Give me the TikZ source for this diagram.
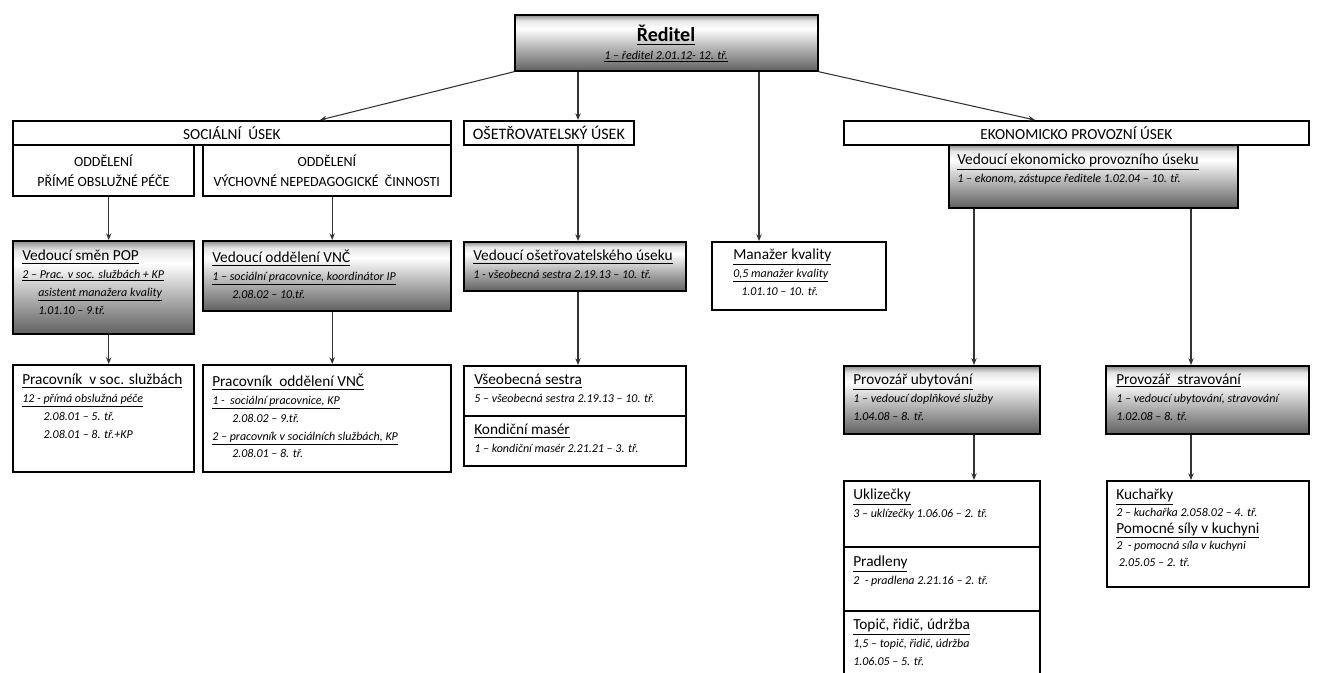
\documentclass[tikz,border=0pt]{standalone}
\usepackage{fontspec}
\setmainfont{Carlito}
\usepackage{tikz}
\usetikzlibrary{positioning,calc,arrows.meta}
\pgfdeclareverticalshading{boxgrad}{100bp}{color(0bp)=(black!62); color(25bp)=(black!62); color(42bp)=(black!35); color(63bp)=(white); color(70bp)=(black!10); color(75bp)=(black!45); color(100bp)=(black!45)}
\newcommand\boxtitle[1]{{\fontsize{11.5}{14}\selectfont\upshape\underline{#1}}}

\begin{document}
\begin{tikzpicture}[x=0.75pt, y=-0.75pt,
    box/.style 2 args={draw, line width=1.3pt, inner sep=0pt, anchor=north west,
        minimum width=#1*0.75pt, minimum height=#2*0.75pt},
    grad/.style={shade, shading=boxgrad},
    head/.style={inner sep=0pt, align=center, font=\fontsize{10.5}{15}\selectfont},
    txt/.style={inner sep=0pt, anchor=north west, align=left, font=\fontsize{9}{13.3}\selectfont\itshape},
    arr/.style={draw=black!80, line width=0.8pt, -{Stealth[length=5pt,width=4pt]}}]
    \useasboundingbox (0,0) rectangle (1319,673);

    % Ředitel
    \node[box={303}{56}, grad] (reditel) at (514,14) {};
    \node[inner sep=0pt, font=\fontsize{15}{18}\selectfont\bfseries] (reditelT) at (666,35) {\underline{Ředitel}};
    \node[inner sep=0pt, font=\fontsize{9}{11}\selectfont\itshape] (reditelS) at (666,57) {\underline{1 – ředitel 2.01.12- 12. tř.}};

    % Sociální úsek
    \node[box={438}{24}] (soc) at (12,120) {};
    \node[head, font=\fontsize{11.5}{14}\selectfont] (socT) at (soc.center) {SOCIÁLNÍ\ \ ÚSEK};
    \node[box={181}{51}] (oddPop) at (12,144) {};
    \node[head] (oddPopT) at (oddPop.center) {ODDĚLENÍ\\ PŘÍMÉ OBSLUŽNÉ PÉČE};
    \node[box={248}{51}] (oddVnc) at (202,144) {};
    \node[head] (oddVncT) at (oddVnc.center) {ODDĚLENÍ\\ VÝCHOVNÉ NEPEDAGOGICKÉ\ \ ČINNOSTI};

    \node[box={181}{93}, grad] (vedPop) at (12,240) {};
    \node[txt] (vedPopT) at (22,250) {\boxtitle{Vedoucí směn POP}\\
        \underline{2 – Prac. v soc. službách + KP}\\
        \hspace*{12pt}\underline{asistent manažera kvality}\\
        \hspace*{12pt}1.01.10 – 9.tř.};
    \node[box={248}{70}, grad] (vedVnc) at (202,240) {};
    \node[txt] (vedVncT) at (212,250) {\boxtitle{Vedoucí oddělení VNČ}\\
        \underline{1 – sociální pracovnice, koordinátor IP}\\
        \hspace*{15pt}2.08.02 – 10.tř.};

    \node[box={181}{107}] (pracPop) at (12,364) {};
    \node[txt] (pracPopT) at (22,374) {\boxtitle{Pracovník\ \ v soc. službách}\\
        \underline{12 - přímá obslužná péče}\\
        \hspace*{16pt}2.08.01 – 5. tř.\\
        \hspace*{16pt}2.08.01 – 8. tř.+KP};
    \node[box={248}{107}] (pracVnc) at (202,364) {};
    \node[txt] (pracVncT) at (212,374) {\boxtitle{Pracovník\ \ oddělení VNČ}\\
        \underline{1 -\ \ sociální pracovnice, KP}\\
        \hspace*{15pt}2.08.02 – 9.tř.\\
        \underline{2 – pracovník v sociálních službách, KP}\\
        \hspace*{15pt}2.08.01 – 8. tř.};

    % Ošetřovatelský úsek
    \node[box={170}{24}] (ose) at (463,120) {};
    \node[head, font=\fontsize{12}{14}\selectfont] (oseT) at (ose.center) {OŠETŘOVATELSKÝ ÚSEK};
    \node[box={222}{49}, grad] (vedOs) at (463,241) {};
    \node[txt] (vedOsT) at (473,250) {\boxtitle{Vedoucí ošetřovatelského úseku}\\
        1 - všeobecná sestra 2.19.13 – 10. tř.};
    \node[box={222}{50}] (sestra) at (463,365) {};
    \node[txt] (sestraT) at (474,374) {\boxtitle{Všeobecná sestra}\\
        5 – všeobecná sestra 2.19.13 – 10. tř.};
    \node[box={222}{50}] (maser) at (463,415) {};
    \node[txt] (maserT) at (474,424) {\boxtitle{Kondiční masér}\\
        1 – kondiční masér 2.21.21 – 3. tř.};

    % Manažer kvality
    \node[box={174}{68}] (manazer) at (711,241) {};
    \node[txt] (manazerT) at (733,249) {\boxtitle{Manažer kvality}\\
        \underline{0,5 manažer kvality}\\
        \hspace*{6pt}1.01.10 – 10. tř.};

    % Ekonomicko provozní úsek
    \node[box={465}{24}] (ekon) at (843,120) {};
    \node[head, font=\fontsize{11.5}{14}\selectfont] (ekonT) at (ekon.center) {EKONOMICKO PROVOZNÍ ÚSEK};
    \node[box={289}{63}, grad] (vedEkon) at (948,144) {};
    \node[txt] (vedEkonT) at (957,154) {\boxtitle{Vedoucí ekonomicko provozního úseku}\\
        1 – ekonom, zástupce ředitele 1.02.04 – 10. tř.};

    \node[box={196}{68}, grad] (ubyt) at (843,365) {};
    \node[txt] (ubytT) at (853,374) {\boxtitle{Provozář ubytování}\\
        1 – vedoucí doplňkové služby\\
        1.04.08 – 8. tř.};
    \node[box={203}{68}, grad] (strav) at (1105,365) {};
    \node[txt] (stravT) at (1116,374) {\boxtitle{Provozář\ \ stravování}\\
        1 – vedoucí ubytování, stravování\\
        1.02.08 – 8. tř.};

    \node[box={196}{66}] (uklid) at (843,480) {};
    \node[txt] (uklidT) at (853,489) {\boxtitle{Uklizečky}\\
        3 – uklízečky 1.06.06 – 2. tř.};
    \node[box={196}{64}] (pradl) at (843,546) {};
    \node[txt] (pradlT) at (853,556) {\boxtitle{Pradleny}\\
        2\ \ - pradlena 2.21.16 – 2. tř.};
    \node[box={196}{80}] (topic) at (843,610) {};
    \node[txt] (topicT) at (853,619) {\boxtitle{Topič, řidič, údržba}\\
        1,5 – topič, řidič, údržba\\
        1.06.05 – 5. tř.};

    \node[box={202}{106}] (kuch) at (1106,480) {};
    \node[txt, font=\fontsize{9}{12.5}\selectfont\itshape] (kuchT) at (1116,489) {\boxtitle{Kuchařky}\\
        2 – kuchařka 2.058.02 – 4. tř.\\
        \boxtitle{Pomocné síly v kuchyni}\\
        2\ \ - pomocná síla v kuchyni\\
        \ 2.05.05 – 2. tř.};

    % Connectors
    \coordinate (socIn) at ($(soc.north west)+(308,0)$);
    \coordinate (oseIn) at ($(ose.north west)+(115,0)$);
    \coordinate (manIn) at ($(manazer.north west)+(48,0)$);
    \coordinate (ekonIn) at ($(ekon.north west)+(192,0)$);
    \coordinate (ubytIn) at ($(ubyt.north west)+(131,0)$);
    \coordinate (stravIn) at ($(strav.north west)+(86,0)$);

    \draw[arr] (reditel.south west) -- (socIn);
    \draw[arr] (reditel.south -| oseIn) -- (oseIn);
    \draw[arr] (reditel.south -| manIn) -- (manIn);
    \draw[arr] (reditel.south east) -- (ekonIn);

    \draw[arr] ([xshift=4]oddPop.south) -- ([xshift=4]vedPop.north);
    \draw[arr] ([xshift=4]oddVnc.south) -- ([xshift=4]vedVnc.north);
    \draw[arr] ([xshift=4]vedPop.south) -- ([xshift=4]pracPop.north);
    \draw[arr] ([xshift=4]vedVnc.south) -- ([xshift=4]pracVnc.north);

    \draw[arr] (ose.south -| oseIn) -- (vedOs.north -| oseIn);
    \draw[arr] (vedOs.south -| oseIn) -- (sestra.north -| oseIn);

    \draw[arr] (vedEkon.south -| ubytIn) -- (ubytIn);
    \draw[arr] (vedEkon.south -| stravIn) -- (stravIn);
    \draw[arr] (ubyt.south -| ubytIn) -- (uklid.north -| ubytIn);
    \draw[arr] (strav.south -| stravIn) -- (kuch.north -| stravIn);
\end{tikzpicture}
\end{document}
